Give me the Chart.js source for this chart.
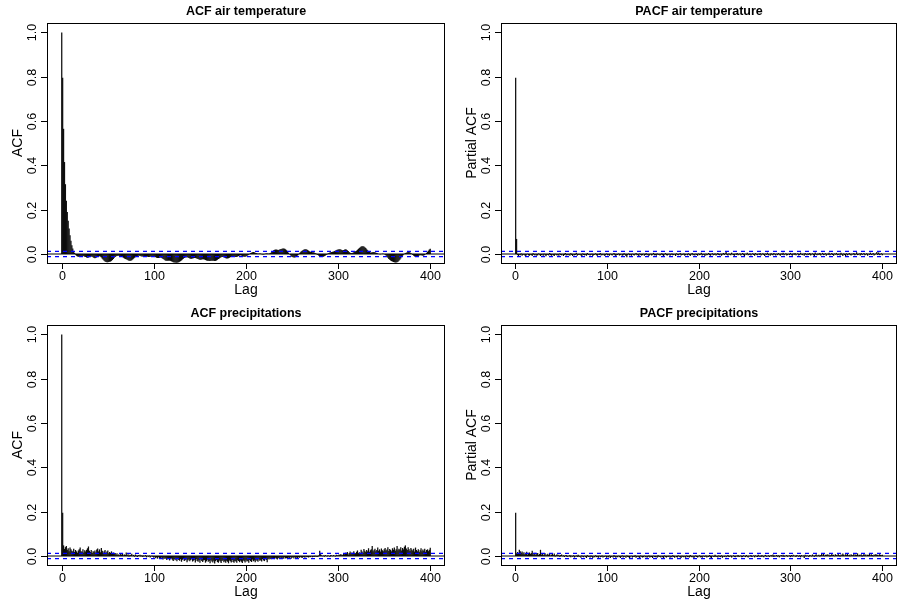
<!DOCTYPE html>
<html>
<head>
<meta charset="utf-8">
<script src="https://cdn.jsdelivr.net/npm/chart.js@4.4.0/dist/chart.umd.min.js"></script>
<style>
  html, body { margin: 0; padding: 0; background: #fff; }
  #wrap { position: relative; width: 898px; height: 605px; overflow: hidden; }
  .panel { position: absolute; }
  canvas { display: block; }
</style>
</head>
<body>
<div id="wrap">
  <div class="panel" style="left:0;top:0"><canvas id="acfTempChart" width="449" height="302"></canvas></div>
  <div class="panel" style="left:449px;top:0"><canvas id="pacfTempChart" width="449" height="302"></canvas></div>
  <div class="panel" style="left:0;top:302px"><canvas id="acfPrecChart" width="449" height="303"></canvas></div>
  <div class="panel" style="left:449px;top:302px"><canvas id="pacfPrecChart" width="449" height="303"></canvas></div>
</div>
<script>
// tick labels
const lagTicks = [0, 100, 200, 300, 400];
const acfTicks = [0, 0.2, 0.4, 0.6, 0.8, 1.0];
const acfTickLabels = ["0.0", "0.2", "0.4", "0.6", "0.8", "1.0"];

// 95% band drawn by acf()/pacf()
const ciBound = 0.0122;

// ACF air temperature, lag 0..400
const acfTemp = [
  1, 0.795, 0.565, 0.415, 0.315, 0.24, 0.19, 0.15, 0.115, 0.085, 0.06, 0.04, 0.025, 0.012, 0.004,
  -0.003, -0.008, -0.011, -0.012, -0.012,
  -0.011, -0.01, -0.009, -0.009, -0.01, -0.012, -0.014, -0.016, -0.017, -0.016,
  -0.014, -0.012, -0.011, -0.012, -0.015, -0.018, -0.019, -0.018, -0.015, -0.012,
  -0.01, -0.01, -0.012, -0.016, -0.021, -0.026, -0.031, -0.034, -0.036, -0.037,
  -0.037, -0.036, -0.035, -0.034, -0.031, -0.027, -0.022, -0.017, -0.013, -0.01,
  -0.009, -0.008, -0.008, -0.009, -0.01, -0.012, -0.014, -0.017, -0.02, -0.022,
  -0.024, -0.026, -0.028, -0.03, -0.031, -0.03, -0.028, -0.025, -0.021, -0.017,
  -0.014, -0.011, -0.009, -0.008, -0.008, -0.009, -0.01, -0.011, -0.011, -0.01,
  -0.009, -0.009, -0.01, -0.012, -0.013, -0.013, -0.012, -0.011, -0.01, -0.01,
  -0.011, -0.013, -0.015, -0.017, -0.018, -0.018, -0.017, -0.016, -0.017, -0.019,
  -0.022, -0.025, -0.028, -0.03, -0.031, -0.031, -0.03, -0.03, -0.031, -0.033,
  -0.035, -0.037, -0.038, -0.038, -0.039, -0.039, -0.038, -0.037, -0.035, -0.032,
  -0.029, -0.025, -0.021, -0.018, -0.016, -0.015, -0.015, -0.016, -0.018, -0.02,
  -0.021, -0.021, -0.02, -0.019, -0.018, -0.018, -0.019, -0.021, -0.023, -0.025,
  -0.026, -0.026, -0.025, -0.024, -0.024, -0.025, -0.027, -0.029, -0.03, -0.031,
  -0.032, -0.032, -0.031, -0.03, -0.03, -0.031, -0.032, -0.031, -0.029, -0.026,
  -0.023, -0.02, -0.017, -0.015, -0.014, -0.014, -0.015, -0.017, -0.019, -0.02,
  -0.02, -0.019, -0.017, -0.015, -0.013, -0.012, -0.012, -0.013, -0.014, -0.014,
  -0.013, -0.011, -0.009, -0.007, -0.006, -0.007, -0.009, -0.011, -0.012, -0.012,
  -0.011, -0.009, -0.006, -0.003, 0.001, 0.004, 0.006, 0.008, 0.009, 0.008,
  0.006, 0.004, 0.002, 0.001, 0.001, 0.002, 0.001, -0.001, -0.002, -0.002,
  -0.001, 0.001, 0.002, 0.002, 0.001, 0.001, 0.003, 0.006, 0.01, 0.014,
  0.017, 0.019, 0.02, 0.02, 0.019, 0.018, 0.019, 0.021, 0.023, 0.024,
  0.025, 0.025, 0.024, 0.021, 0.017, 0.012, 0.006, 0.0, -0.005, -0.01,
  -0.013, -0.015, -0.016, -0.016, -0.014, -0.011, -0.007, -0.002, 0.003, 0.008,
  0.012, 0.015, 0.018, 0.02, 0.021, 0.021, 0.02, 0.018, 0.015, 0.012,
  0.01, 0.009, 0.008, 0.008, 0.007, 0.005, 0.002, -0.002, -0.005, -0.008,
  -0.01, -0.012, -0.013, -0.013, -0.012, -0.01, -0.008, -0.005, -0.002, 0.002,
  0.005, 0.007, 0.008, 0.009, 0.01, 0.011, 0.013, 0.015, 0.017, 0.019,
  0.02, 0.021, 0.021, 0.02, 0.018, 0.017, 0.018, 0.02, 0.021, 0.02,
  0.017, 0.013, 0.009, 0.006, 0.005, 0.005, 0.006, 0.008, 0.01, 0.012,
  0.015, 0.019, 0.023, 0.027, 0.031, 0.034, 0.035, 0.035, 0.034, 0.031,
  0.027, 0.022, 0.017, 0.012, 0.009, 0.007, 0.007, 0.008, 0.009, 0.009,
  0.008, 0.006, 0.004, 0.002, 0.0, -0.001, -0.001, 0.0, 0.001, 0.001,
  0.0, -0.003, -0.007, -0.012, -0.017, -0.022, -0.026, -0.029, -0.032, -0.034,
  -0.036, -0.037, -0.038, -0.038, -0.037, -0.035, -0.031, -0.026, -0.02, -0.014,
  -0.008, -0.003, 0.001, 0.004, 0.006, 0.008, 0.009, 0.009, 0.007, 0.004,
  0.0, -0.004, -0.008, -0.011, -0.012, -0.012, -0.011, -0.009, -0.007, -0.006,
  -0.006, -0.007, -0.008, -0.007, -0.004, 0.0, 0.005, 0.01, 0.015, 0.02,
  0.024
];

// PACF air temperature, lag 1..400
const pacfTemp = [
  0.795, 0.068, -0.004, -0.009, -0.003, -0.006, 0.002, -0.008, -0.005, -0.001, -0.007, -0.01, -0.003, 0.001, -0.006, -0.008, -0.002, -0.005, -0.009, 0.003,
  -0.004, -0.007, -0.001, -0.008, -0.006, 0.002, -0.003, -0.009, -0.005, -0.002, -0.008, 0.001, -0.006, -0.01, -0.004, -0.003, -0.007, 0.004, -0.005, -0.008,
  -0.002, -0.006, -0.009, 0.001, -0.004, -0.007, -0.003, -0.008, 0.002, -0.005, -0.006, -0.001, -0.009, -0.004, 0.005, -0.007, -0.003, -0.006, -0.002, -0.008,
  0.003, -0.005, -0.009, -0.002, -0.006, -0.004, 0.006, -0.008, -0.003, -0.005, -0.001, -0.007, -0.01, 0.002, -0.004, -0.006, -0.003, -0.008, 0.004, -0.005,
  -0.002, -0.007, -0.004, 0.001, -0.009, -0.005, -0.003, 0.003, -0.006, -0.008, -0.002, -0.004, 0.005, -0.007, -0.003, -0.006, -0.001, -0.009, -0.004, 0.002,
  -0.006, -0.003, -0.008, 0.001, -0.005, -0.007, -0.002, 0.004, -0.006, -0.009, -0.003, -0.005, 0.002, -0.007, -0.004, -0.001, -0.008, -0.006, 0.003, -0.005,
  -0.009, -0.015, -0.004, 0.002, -0.006, -0.003, -0.008, 0.001, -0.005, -0.007, -0.002, 0.004, -0.006, -0.004, -0.009, 0.002, -0.003, -0.007, -0.005, 0.001,
  -0.008, -0.004, 0.003, -0.006, -0.002, -0.009, -0.005, 0.001, -0.007, -0.003, 0.005, -0.006, -0.004, -0.008, 0.002, -0.005, -0.001, -0.007, -0.004, 0.003,
  -0.006, -0.009, -0.002, 0.004, -0.005, -0.007, -0.003, 0.001, -0.008, -0.004, 0.002, -0.006, -0.005, -0.001, -0.009, 0.003, -0.004, -0.006, -0.002, 0.005,
  -0.007, -0.003, -0.005, 0.002, -0.008, -0.004, -0.001, -0.006, 0.003, -0.005, -0.009, -0.002, 0.004, -0.006, -0.003, -0.007, 0.001, -0.004, -0.008, 0.002,
  -0.005, -0.003, 0.006, -0.007, -0.002, -0.004, -0.009, 0.001, -0.006, -0.003, 0.004, -0.005, -0.008, -0.001, 0.003, -0.006, -0.004, 0.002, -0.007, -0.003,
  0.005, -0.004, -0.006, 0.001, -0.008, -0.002, 0.004, -0.005, 0.003, 0.012, -0.004, -0.007, 0.002, -0.003, -0.006, 0.006, -0.002, -0.005, -0.008, 0.001,
  -0.004, 0.005, -0.006, -0.003, 0.002, -0.007, -0.002, 0.004, -0.005, -0.009, 0.001, -0.003, 0.006, -0.006, -0.004, 0.002, -0.007, -0.001, 0.003, -0.005,
  -0.008, 0.004, -0.003, -0.006, 0.001, -0.004, 0.005, -0.007, -0.002, 0.003, -0.005, -0.009, 0.002, -0.004, 0.006, -0.006, -0.001, -0.008, 0.003, -0.004,
  -0.006, 0.005, -0.002, -0.007, 0.001, -0.005, 0.004, -0.003, -0.008, 0.002, -0.004, 0.006, -0.006, -0.002, 0.003, -0.007, -0.004, 0.001, -0.005, 0.005,
  -0.003, -0.008, 0.002, -0.005, 0.004, -0.006, -0.001, 0.003, -0.007, -0.004, 0.006, -0.002, -0.005, 0.001, -0.008, 0.004, -0.003, -0.006, 0.002, -0.004,
  0.005, -0.007, -0.002, 0.003, -0.005, -0.009, 0.007, -0.003, -0.006, 0.002, -0.004, 0.004, -0.007, -0.001, 0.005, -0.005, -0.003, 0.003, -0.008, 0.001,
  -0.004, 0.006, -0.006, -0.002, 0.004, -0.005, -0.008, 0.002, -0.003, 0.005, -0.006, -0.004, 0.001, -0.007, 0.006, -0.003, -0.009, 0.002, -0.005, -0.011,
  0.003, -0.006, -0.002, 0.005, -0.004, -0.007, 0.001, -0.003, 0.004, -0.006, -0.002, 0.008, -0.005, -0.003, 0.002, -0.007, 0.004, -0.004, -0.001, 0.005,
  -0.006, -0.003, 0.003, -0.008, 0.001, -0.004, 0.006, -0.005, -0.002, 0.004, -0.007, -0.003, 0.002, 0.009, -0.004, 0.007, -0.005, -0.002, 0.003, -0.006
];

// ACF precipitations, lag 0..400
const acfPrec = [
  1, 0.195, 0.048, 0.032, 0.04, 0.045, 0.028, 0.035, 0.022, 0.038, 0.03, 0.024, 0.02, 0.033, 0.018, 0.027, 0.021, 0.015, 0.025, 0.03,
  0.038, 0.022, 0.019, 0.031, 0.016, 0.026, 0.02, 0.028, 0.035, 0.043, 0.024, 0.018, 0.027, 0.014, 0.022, 0.019, 0.025, 0.016, 0.029, 0.034,
  0.021, 0.03, 0.017, 0.036, 0.024, 0.015, 0.022, 0.027, 0.013, 0.02, 0.025, 0.012, 0.018, 0.014, 0.021, 0.009, 0.016, 0.011, 0.013, 0.007,
  0.012, 0.004, 0.008, 0.003, 0.009, 0.006, 0.011, 0.002, 0.007, 0.005, 0.016, 0.003, 0.008, -0.002, 0.006, 0.004, 0.01, 0.001, 0.005, -0.003,
  0.007, 0.002, -0.004, 0.004, 0.001, 0.006, -0.002, 0.003, -0.005, 0.002, -0.001, 0.004, -0.006, 0.001, -0.003, 0.002, -0.007, -0.002, 0.001, -0.005,
  -0.008, -0.003, -0.01, -0.006, -0.012, -0.004, -0.009, -0.014, -0.007, -0.011, -0.016, -0.008, -0.013, -0.01, -0.018, -0.012, -0.009, -0.02, -0.014, -0.011,
  -0.017, -0.022, -0.013, -0.019, -0.015, -0.024, -0.011, -0.018, -0.021, -0.014, -0.026, -0.017, -0.012, -0.023, -0.019, -0.015, -0.028, -0.02, -0.016, -0.024,
  -0.018, -0.013, -0.025, -0.021, -0.017, -0.029, -0.015, -0.022, -0.026, -0.019, -0.031, -0.016, -0.023, -0.027, -0.02, -0.018, -0.03, -0.024, -0.017, -0.026,
  -0.022, -0.033, -0.019, -0.025, -0.029, -0.021, -0.034, -0.023, -0.018, -0.027, -0.031, -0.02, -0.025, -0.032, -0.022, -0.019, -0.028, -0.024, -0.03, -0.021,
  -0.026, -0.033, -0.02, -0.024, -0.029, -0.018, -0.027, -0.031, -0.022, -0.025, -0.03, -0.019, -0.023, -0.028, -0.021, -0.026, -0.032, -0.02, -0.024, -0.029,
  -0.019, -0.025, -0.022, -0.03, -0.018, -0.023, -0.027, -0.016, -0.024, -0.02, -0.028, -0.017, -0.022, -0.026, -0.015, -0.021, -0.019, -0.025, -0.014, -0.02,
  -0.023, -0.013, -0.018, -0.028, -0.012, -0.016, -0.011, -0.015, -0.009, -0.013, -0.01, -0.014, -0.008, -0.012, -0.016, -0.009, -0.011, -0.007, -0.013, -0.01,
  -0.008, -0.012, -0.006, -0.011, -0.009, -0.014, -0.007, -0.01, -0.005, -0.012, -0.008, -0.006, -0.011, -0.004, -0.009, -0.007, -0.01, -0.005, -0.008, -0.003,
  -0.007, -0.009, -0.004, -0.006, -0.008, -0.002, -0.006, -0.004, -0.007, -0.003, -0.005, -0.001, -0.006, -0.003, -0.004, 0.001, -0.005, -0.002, -0.004, 0.002,
  0.024, 0.008, 0.003, -0.001, 0.002, -0.003, 0.004, 0.001, -0.002, 0.003, 0.0, -0.003, 0.005, 0.002, -0.001, 0.004, 0.001, -0.002, 0.006, 0.003,
  0.002, 0.007, 0.004, 0.009, 0.003, 0.006, 0.012, 0.008, 0.015, 0.01, 0.018, 0.007, 0.013, 0.02, 0.011, 0.016, 0.009, 0.022, 0.014, 0.012,
  0.019, 0.025, 0.013, 0.017, 0.011, 0.028, 0.02, 0.015, 0.032, 0.024, 0.018, 0.027, 0.021, 0.035, 0.019, 0.026, 0.03, 0.045, 0.022, 0.028,
  0.033, 0.021, 0.027, 0.038, 0.024, 0.03, 0.02, 0.034, 0.026, 0.022, 0.031, 0.036, 0.025, 0.029, 0.04, 0.023, 0.032, 0.027, 0.021, 0.035,
  0.028, 0.038, 0.024, 0.031, 0.045, 0.026, 0.033, 0.029, 0.04, 0.025, 0.036, 0.03, 0.042, 0.048, 0.034, 0.027, 0.039, 0.031, 0.023, 0.036,
  0.029, 0.025, 0.033, 0.02, 0.038, 0.027, 0.022, 0.031, 0.018, 0.026, 0.035, 0.021, 0.029, 0.024, 0.033, 0.019, 0.027, 0.03, 0.022, 0.028,
  0.037
];

// PACF precipitations, lag 1..400
const pacfPrec = [
  0.195, 0.012, 0.018, 0.009, 0.028, 0.022, 0.015, 0.02, 0.011, 0.017, 0.008, 0.014, 0.019, 0.006, 0.012, 0.016, 0.009, 0.013, 0.024, 0.007,
  0.011, 0.015, 0.005, 0.01, 0.013, 0.004, 0.009, 0.028, 0.006, 0.011, 0.003, 0.008, 0.012, 0.002, 0.007, 0.01, 0.004, 0.014, 0.001, 0.006,
  0.009, 0.003, 0.011, -0.002, 0.005, 0.008, 0.002, 0.006, -0.003, 0.004, 0.007, -0.001, 0.003, -0.005, 0.002, 0.005, -0.004, 0.001, -0.002, 0.004,
  -0.006, 0.001, -0.003, 0.003, -0.007, -0.002, 0.002, -0.005, 0.006, -0.004, -0.001, -0.008, 0.002, -0.003, -0.006, 0.001, -0.004, -0.009, 0.003, -0.005,
  -0.002, -0.007, 0.002, -0.004, -0.009, -0.001, -0.006, 0.003, -0.005, -0.003, -0.008, 0.001, -0.006, -0.004, 0.002, -0.007, -0.002, -0.005, 0.001, -0.008,
  -0.003, -0.006, 0.002, -0.009, -0.004, -0.001, -0.007, 0.003, -0.005, -0.008, -0.002, -0.006, 0.001, -0.004, -0.009, -0.003, 0.002, -0.007, -0.005, -0.001,
  -0.008, 0.002, -0.004, -0.006, -0.01, -0.002, 0.001, -0.007, -0.003, -0.005, 0.003, -0.008, -0.004, -0.001, -0.006, -0.009, 0.002, -0.003, -0.007, -0.005,
  0.001, -0.006, -0.002, -0.008, -0.004, 0.002, -0.007, -0.003, -0.005, -0.009, 0.001, -0.004, -0.006, -0.002, -0.008, 0.003, -0.005, -0.003, -0.007, -0.001,
  -0.006, -0.009, 0.002, -0.004, -0.007, -0.002, -0.005, 0.001, -0.008, -0.003, -0.006, 0.003, -0.004, -0.008, -0.001, -0.005, -0.007, 0.002, -0.003, -0.006,
  -0.009, 0.001, -0.004, -0.006, -0.002, -0.008, 0.002, -0.005, -0.003, -0.007, 0.004, -0.004, -0.006, -0.001, -0.009, -0.003, 0.002, -0.005, -0.007, -0.002,
  0.003, -0.006, -0.004, -0.008, 0.001, -0.003, -0.005, 0.002, -0.007, -0.002, -0.004, 0.004, -0.006, -0.009, 0.001, -0.003, -0.005, 0.006, -0.004, -0.002,
  -0.007, 0.002, -0.003, -0.005, 0.003, -0.008, -0.001, -0.004, 0.001, -0.006, -0.002, 0.004, -0.005, -0.003, 0.002, -0.007, -0.001, 0.003, -0.004, -0.006,
  0.001, -0.003, 0.005, -0.005, -0.002, 0.002, -0.006, -0.004, 0.003, -0.001, -0.005, 0.004, -0.003, -0.007, 0.001, -0.002, 0.005, -0.004, -0.001, 0.002,
  -0.006, 0.003, -0.002, -0.004, 0.006, -0.003, 0.001, -0.005, 0.004, -0.002, -0.006, 0.002, 0.005, -0.003, -0.001, 0.003, -0.005, 0.001, 0.004, -0.002,
  0.007, -0.004, 0.002, -0.001, 0.005, -0.003, 0.003, -0.006, 0.001, 0.004, -0.002, 0.006, -0.004, 0.002, -0.001, 0.005, -0.003, 0.001, 0.003, -0.005,
  0.004, -0.002, 0.006, -0.001, 0.002, -0.004, 0.005, 0.001, -0.003, 0.003, -0.006, 0.004, -0.001, 0.002, -0.009, 0.006, -0.002, 0.003, 0.001, -0.004,
  0.005, 0.002, -0.002, 0.007, 0.001, -0.003, 0.004, 0.008, -0.001, 0.003, 0.006, -0.002, 0.005, 0.009, 0.002, 0.012, -0.001, 0.006, 0.004, 0.008,
  0.002, 0.007, -0.002, 0.005, 0.01, 0.003, 0.006, -0.001, 0.008, 0.004, 0.002, 0.009, 0.005, -0.002, 0.007, 0.003, 0.011, 0.006, 0.001, 0.008,
  0.004, 0.01, 0.002, 0.006, -0.001, 0.008, 0.005, 0.003, 0.009, 0.001, 0.007, 0.004, 0.012, 0.002, 0.006, 0.003, 0.008, -0.002, 0.005, 0.009,
  0.003, 0.007, 0.001, 0.006, 0.004, 0.011, 0.002, 0.008, 0.005, -0.001, 0.007, 0.003, 0.009, 0.004, 0.006, 0.002, 0.008, 0.005, 0.003, 0.006
];

const FONT = '"Liberation Sans", Arial, Helvetica, sans-serif';

// R-style frame: zero line, blue band, box, axes, upright y labels, titles
const acfFrame = {
  id: 'acfFrame',
  afterDraw(chart, args, opts) {
    const ctx = chart.ctx;
    const a = chart.chartArea;
    const x = chart.scales.x, y = chart.scales.y;
    const ci = chart.config.options.ciBound;
    ctx.save();
    ctx.lineWidth = 1;

    let y0 = y.getPixelForValue(0);
    ctx.strokeStyle = '#000000';
    ctx.beginPath();
    ctx.moveTo(a.left, y0);
    ctx.lineTo(a.right, y0);
    ctx.stroke();

    ctx.strokeStyle = '#0000ff';
    ctx.lineWidth = 1.2;
    ctx.setLineDash([4, 4]);
    [ci, -ci].forEach(v => {
      let py = y.getPixelForValue(v);
      ctx.beginPath();
      ctx.moveTo(a.left, py);
      ctx.lineTo(a.right, py);
      ctx.stroke();
    });
    ctx.setLineDash([]);
    ctx.lineWidth = 1;

    ctx.strokeStyle = '#000000';
    ctx.fillStyle = '#000000';
    ctx.strokeRect(a.left + 0.5, a.top + 0.5, a.right - a.left - 1, a.bottom - a.top);

    // x axis
    ctx.font = '12.5px ' + FONT;
    ctx.textAlign = 'center';
    ctx.textBaseline = 'middle';
    lagTicks.forEach(t => {
      let px = Math.round(x.getPixelForValue(t)) + 0.5;
      ctx.beginPath();
      ctx.moveTo(px, a.bottom);
      ctx.lineTo(px, a.bottom + 6);
      ctx.stroke();
      ctx.fillText(String(t), px, a.bottom + 14);
    });
    // y axis, labels written upward like R
    acfTicks.forEach((t, i) => {
      let py = Math.round(y.getPixelForValue(t)) + 0.5;
      ctx.beginPath();
      ctx.moveTo(a.left - 6, py);
      ctx.lineTo(a.left, py);
      ctx.stroke();
      ctx.save();
      ctx.translate(a.left - 14, py);
      ctx.rotate(-Math.PI / 2);
      ctx.fillText(acfTickLabels[i], 0, 0);
      ctx.restore();
    });

    ctx.font = '14px ' + FONT;
    ctx.fillText('Lag', (a.left + a.right) / 2, a.bottom + 27);
    ctx.save();
    ctx.translate(a.left - 29, (a.top + a.bottom) / 2);
    ctx.rotate(-Math.PI / 2);
    ctx.fillText(chart.config.options.ylab, 0, 0);
    ctx.restore();

    ctx.font = 'bold 12.5px ' + FONT;
    ctx.fillText(chart.config.options.panelTitle, (a.left + a.right) / 2, 12);
    ctx.restore();
  }
};

function makePanel(canvasId, values, firstLag, title, ylab, pad) {
  const lastLag = firstLag + values.length - 1;
  const ext = 0.04 * (lastLag - firstLag);
  const points = values.map((v, i) => ({ x: firstLag + i, y: v }));
  return new Chart(document.getElementById(canvasId), {
    type: 'bar',
    data: {
      datasets: [{
        data: points,
        backgroundColor: '#0d0d0d',
        borderWidth: 0,
        barThickness: 1.25,
        inflateAmount: 0
      }]
    },
    options: {
      responsive: false,
      animation: false,
      panelTitle: title,
      ylab: ylab,
      ciBound: ciBound,
      layout: { padding: pad },
      plugins: {
        legend: { display: false },
        tooltip: { enabled: false }
      },
      scales: {
        x: { type: 'linear', display: false, offset: false, min: firstLag - ext, max: lastLag + ext },
        y: { type: 'linear', display: false, min: -0.0406, max: 1.0424 }
      }
    },
    plugins: [acfFrame]
  });
}

makePanel('acfTempChart', acfTemp, 0, 'ACF air temperature', 'ACF', { left: 47, top: 23, right: 4, bottom: 39 });
makePanel('pacfTempChart', pacfTemp, 1, 'PACF air temperature', 'Partial ACF', { left: 52, top: 23, right: 1, bottom: 39 });
makePanel('acfPrecChart', acfPrec, 0, 'ACF precipitations', 'ACF', { left: 47, top: 23, right: 4, bottom: 40 });
makePanel('pacfPrecChart', pacfPrec, 1, 'PACF precipitations', 'Partial ACF', { left: 52, top: 23, right: 1, bottom: 40 });
</script>
</body>
</html>
